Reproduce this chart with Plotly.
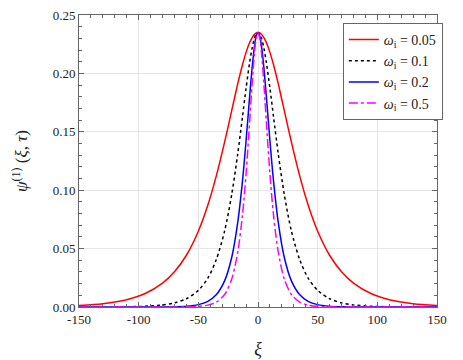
import plotly.graph_objects as go

# shared xi grid
xi = [-150, -130, -110, -95, -80, -70, -60, -50, -42, -35, -28, -22, -17, -13, -10, -7, -5, -3, -1.5, 0,
      1.5, 3, 5, 7, 10, 13, 17, 22, 28, 35, 42, 50, 60, 70, 80, 95, 110, 130, 150]

# half-profiles (xi >= 0), mirrored below
red_half = [0.235, 0.2346, 0.2334, 0.2305, 0.2264, 0.2180, 0.2074, 0.1910, 0.1683, 0.1411, 0.1120,
            0.0873, 0.0649, 0.0443, 0.0301, 0.0204, 0.0113, 0.00629, 0.00287, 0.00131]
black_half = [0.235, 0.2337, 0.2299, 0.2213, 0.2094, 0.1873, 0.1629, 0.1310, 0.0965, 0.0650, 0.0404,
              0.0248, 0.01423, 0.00708, 0.00352, 0.00175, 0.00061, 0.000215, 0.000053, 0.000013]
blue_half = [0.235, 0.2319, 0.2230, 0.2041, 0.1803, 0.1423, 0.1080, 0.0723, 0.0426, 0.02236, 0.01046,
             0.00489, 0.00205, 0.000691, 0.000233, 0.0000786, 0.0000154, 0.000003, 0.0000002, 0.0]
mag_half = [0.235, 0.2303, 0.2169, 0.1899, 0.1586, 0.1140, 0.0788, 0.0468, 0.0240, 0.01068, 0.00415,
            0.00161, 0.000547, 0.000141, 0.0000366, 0.0000095, 0.0000013, 0.0, 0.0, 0.0]

def full(h):
    return list(reversed(h[1:])) + h

series_names = ["<i>ω</i><sub>i</sub> = 0.05", "<i>ω</i><sub>i</sub> = 0.1",
                "<i>ω</i><sub>i</sub> = 0.2", "<i>ω</i><sub>i</sub> = 0.5"]
series_vals = [full(red_half), full(black_half), full(blue_half), full(mag_half)]
colors = ["#ff0000", "#000000", "#0000ff", "#ff00ff"]
dashes = ["solid", "dot", "solid", "dashdot"]

x_ticks = [-150, -100, -50, 0, 50, 100, 150]
x_ticklabels = ["-150", "-100", "-50", "0", "50", "100", "150"]
y_ticks = [0.00, 0.05, 0.10, 0.15, 0.20, 0.25]
y_ticklabels = ["0.00", "0.05", "0.10", "0.15", "0.20", "0.25"]

fig = go.Figure()
for i, (name, vals, c, d) in enumerate(zip(series_names, series_vals, colors, dashes)):
    fig.add_trace(go.Scatter(x=xi, y=vals, mode="lines", name=name, legendgroup=f"g{i}",
                             line=dict(color=c, width=1.5, dash=d, shape="spline", smoothing=0.8)))

font = "Liberation Serif"
axis_common = dict(
    showline=True, linecolor="#666666", linewidth=1, mirror="allticks",
    ticks="inside", ticklen=5, tickcolor="#666666",
    showgrid=True, gridcolor="#e6e6e6", gridwidth=1, zeroline=False,
    tickfont=dict(family=font, size=13, color="#222222"),
    automargin=False, ticklabeloverflow="allow",
)
fig.update_xaxes(range=[-150, 150], tickvals=x_ticks, ticktext=x_ticklabels,
                 minor=dict(dtick=10, ticks="inside", ticklen=3, tickcolor="#666666", showgrid=False),
                 title=dict(text="<i>ξ</i>", font=dict(family=font, size=18, color="#222222"), standoff=16),
                 **axis_common)
fig.update_yaxes(range=[0, 0.25], tickvals=y_ticks, ticktext=y_ticklabels,
                 minor=dict(dtick=0.01, ticks="inside", ticklen=3, tickcolor="#666666", showgrid=False),
                 title=dict(text="<i>ψ</i><sup>(1)</sup> (<i>ξ</i>, <i>τ</i>)",
                            font=dict(family=font, size=17, color="#222222"), standoff=20),
                 **axis_common)

# page body adds an 8px offset, so the figure is a bit smaller than the window
fig.update_layout(
    width=455, height=352,
    margin=dict(l=71, r=26, t=7, b=53),
    plot_bgcolor="white", paper_bgcolor="white",
    font=dict(family=font, color="#222222"),
    showlegend=True,
    legend=dict(x=0.737, y=0.973, xanchor="left", yanchor="top",
                bgcolor="white", bordercolor="#666666", borderwidth=1,
                font=dict(family=font, size=14, color="#222222"),
                itemwidth=30, tracegroupgap=0),
)

fig.write_html("out.html")
